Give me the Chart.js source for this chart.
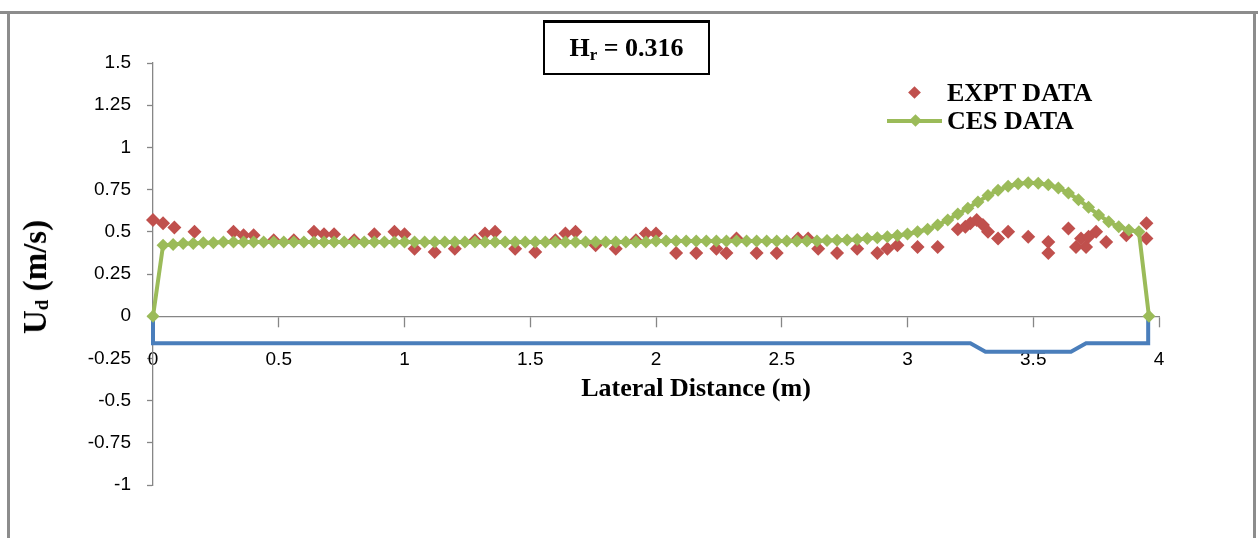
<!DOCTYPE html>
<html>
<head>
<meta charset="utf-8">
<script src="https://cdn.jsdelivr.net/npm/chart.js@4.4.0/dist/chart.umd.min.js"></script>
<style>
    body { margin: 0; background: #fff; }
    #wrap { position: relative; width: 1258px; height: 538px; overflow: hidden; background: #fff; }
    #chart { position: absolute; left: 0; top: 0; }
    .line { position: absolute; background: #8c8c8c; }
    .serif { position: absolute; font-family: 'Liberation Serif', 'Times New Roman', serif; font-weight: bold; color: #000; white-space: nowrap; }
    .diamond { position: absolute; width: 9px; height: 9px; transform: rotate(45deg); }
    #hr-box { left: 543px; top: 20px; width: 167px; height: 55px; border: 2px solid #000; border-top-width: 3px; box-sizing: border-box;
              font-size: 26px; line-height: 50px; text-align: center; }
    #hr-box sub { font-size: 17px; vertical-align: -4px; line-height: 0; }
    #y-title { left: 35px; top: 277px; font-size: 33px; line-height: 34px; transform: translate(-50%, -50%) rotate(-90deg); }
    #y-title sub { font-size: 19px; vertical-align: -2px; line-height: 0; }
    #x-title { left: 696px; top: 388px; font-size: 26px; line-height: 28px; transform: translate(-50%, -50%); }
    .leg-text { font-size: 26px; line-height: 28px; left: 947px; }
</style>
</head>
<body>
<div id="wrap">
    <canvas id="chart" width="1258" height="538"></canvas>

    <!-- moldura -->
    <div class="line" style="left:0; top:11px; width:1258px; height:3px;"></div>
    <div class="line" style="left:7px; top:11px; width:3px; height:527px;"></div>
    <div class="line" style="left:1253px; top:11px; width:3px; height:527px;"></div>

    <div id="hr-box" class="serif">H<sub>r</sub> = 0.316</div>

    <!-- legenda -->
    <div class="diamond" style="left:910px; top:88px; background:#C0504D;"></div>
    <div class="serif leg-text" style="top:79px;">EXPT DATA</div>
    <div style="position:absolute; left:887px; top:119px; width:55px; height:4px; background:#9BBB59;"></div>
    <div class="diamond" style="left:911px; top:116px; background:#9BBB59;"></div>
    <div class="serif leg-text" style="top:107px;">CES DATA</div>

    <div id="y-title" class="serif">U<sub>d</sub> (m/s)</div>
    <div id="x-title" class="serif">Lateral Distance (m)</div>
</div>

<script>
// Ticks dos eixos
const xTickValues = [0, 0.5, 1, 1.5, 2, 2.5, 3, 3.5, 4];
const yTickValues = [-1, -0.75, -0.5, -0.25, 0, 0.25, 0.5, 0.75, 1, 1.25, 1.5];

// EXPT DATA (pontos medidos)
const exptX = [0.00, 0.04, 0.085, 0.165, 0.32, 0.36, 0.40, 0.48, 0.56, 0.64, 0.68, 0.72, 0.80, 0.88, 0.96, 1.00,
    1.04, 1.12, 1.20, 1.28, 1.32, 1.36, 1.44, 1.52, 1.60, 1.64, 1.68, 1.76, 1.84, 1.92, 1.96, 2.00,
    2.08, 2.16, 2.24, 2.28, 2.32, 2.40, 2.48, 2.565, 2.605, 2.645, 2.72, 2.80, 2.88, 2.92, 2.96, 3.04,
    3.12, 3.20, 3.23, 3.25, 3.275, 3.30, 3.32, 3.36, 3.40, 3.48, 3.56, 3.56, 3.64, 3.67, 3.69, 3.71,
    3.72, 3.75, 3.79, 3.87, 3.95, 3.95];
const exptY = [0.57, 0.55, 0.525, 0.50, 0.50, 0.48, 0.48, 0.45, 0.45, 0.50, 0.485, 0.485, 0.45, 0.485, 0.50, 0.485,
    0.40, 0.38, 0.40, 0.45, 0.49, 0.50, 0.40, 0.38, 0.45, 0.49, 0.50, 0.42, 0.40, 0.45, 0.49, 0.49,
    0.375, 0.375, 0.40, 0.375, 0.46, 0.375, 0.375, 0.46, 0.46, 0.40, 0.375, 0.40, 0.375, 0.40, 0.42, 0.41,
    0.41, 0.515, 0.53, 0.55, 0.57, 0.54, 0.50, 0.46, 0.50, 0.47, 0.44, 0.375, 0.52, 0.41, 0.46, 0.41,
    0.47, 0.50, 0.44, 0.48, 0.55, 0.46];

// CES DATA (modelo)
const cesX = [0.00, 0.04, 0.08, 0.12, 0.16, 0.20, 0.24, 0.28, 0.32, 0.36, 0.40, 0.44, 0.48, 0.52, 0.56, 0.60,
    0.64, 0.68, 0.72, 0.76, 0.80, 0.84, 0.88, 0.92, 0.96, 1.00, 1.04, 1.08, 1.12, 1.16, 1.20, 1.24,
    1.28, 1.32, 1.36, 1.40, 1.44, 1.48, 1.52, 1.56, 1.60, 1.64, 1.68, 1.72, 1.76, 1.80, 1.84, 1.88,
    1.92, 1.96, 2.00, 2.04, 2.08, 2.12, 2.16, 2.20, 2.24, 2.28, 2.32, 2.36, 2.40, 2.44, 2.48, 2.52,
    2.56, 2.60, 2.64, 2.68, 2.72, 2.76, 2.80, 2.84, 2.88, 2.92, 2.96, 3.00, 3.04, 3.08, 3.12, 3.16,
    3.20, 3.24, 3.28, 3.32, 3.36, 3.40, 3.44, 3.48, 3.52, 3.56, 3.60, 3.64, 3.68, 3.72, 3.76, 3.80,
    3.84, 3.88, 3.92, 3.96];
const cesY = [0, 0.42, 0.425, 0.43, 0.43, 0.435, 0.435, 0.44, 0.44, 0.44, 0.44, 0.44, 0.44, 0.44, 0.44, 0.44,
    0.44, 0.44, 0.44, 0.44, 0.44, 0.44, 0.44, 0.44, 0.44, 0.44, 0.44, 0.44, 0.44, 0.44, 0.44, 0.44,
    0.44, 0.44, 0.44, 0.44, 0.44, 0.44, 0.44, 0.44, 0.44, 0.44, 0.44, 0.44, 0.44, 0.44, 0.44, 0.44,
    0.44, 0.44, 0.445, 0.445, 0.445, 0.445, 0.445, 0.445, 0.445, 0.445, 0.445, 0.445, 0.445, 0.445, 0.445, 0.445,
    0.445, 0.445, 0.445, 0.448, 0.45, 0.452, 0.455, 0.46, 0.465, 0.47, 0.478, 0.487, 0.50, 0.515, 0.54, 0.57,
    0.605, 0.64, 0.677, 0.715, 0.746, 0.77, 0.785, 0.79, 0.787, 0.778, 0.76, 0.73, 0.69, 0.645, 0.60, 0.56,
    0.53, 0.51, 0.50, 0];

// Perfil do leito (linha azul)
const bedX = [0, 0, 3.25, 3.31, 3.65, 3.71, 3.957, 3.957];
const bedY = [0, -0.16, -0.16, -0.21, -0.21, -0.16, -0.16, 0];

function toPoints(xs, ys) {
    return xs.map((x, i) => ({ x: x, y: ys[i] }));
}

Chart.defaults.font.family = "'Liberation Sans', Arial, sans-serif";
Chart.defaults.color = '#000';

const ctx = document.getElementById('chart').getContext('2d');

new Chart(ctx, {
    type: 'scatter',
    data: {
        datasets: [
            {
                label: 'CES DATA',
                data: toPoints(cesX, cesY),
                showLine: true,
                borderColor: '#9BBB59',
                backgroundColor: '#9BBB59',
                borderWidth: 4,
                pointStyle: 'rectRot',
                pointRadius: 6.5,
                pointBorderWidth: 0,
                clip: false,
                order: 1
            },
            {
                label: 'EXPT DATA',
                data: toPoints(exptX, exptY),
                borderColor: '#C0504D',
                backgroundColor: '#C0504D',
                pointStyle: 'rectRot',
                pointRadius: 7,
                pointBorderWidth: 0,
                clip: false,
                order: 2
            },
            {
                label: 'Bed',
                data: toPoints(bedX, bedY),
                showLine: true,
                borderColor: '#4A7EBB',
                borderWidth: 4,
                pointRadius: 0,
                clip: false,
                order: 3
            }
        ]
    },
    options: {
        responsive: false,
        animation: false,
        devicePixelRatio: 1,
        layout: { padding: { left: 0, right: 99, top: 63, bottom: 53 } },
        plugins: {
            legend: { display: false },
            tooltip: { enabled: false }
        },
        scales: {
            x: {
                type: 'linear',
                min: 0,
                max: 4,
                position: { y: 0 },
                afterBuildTicks: scale => { scale.ticks = xTickValues.map(v => ({ value: v })); },
                ticks: {
                    callback: v => String(v),
                    padding: 22,
                    maxRotation: 0,
                    autoSkip: false,
                    font: { size: 19 }
                },
                grid: { drawOnChartArea: false, tickLength: 10, color: '#868686', tickWidth: 1.3 },
                border: { color: '#868686', width: 1.3 }
            },
            y: {
                type: 'linear',
                min: -1,
                max: 1.5,
                afterBuildTicks: scale => { scale.ticks = yTickValues.map(v => ({ value: v })); },
                afterFit: scale => { scale.width = 153; },
                ticks: {
                    callback: v => String(v),
                    padding: 16,
                    autoSkip: false,
                    font: { size: 19 }
                },
                grid: { drawOnChartArea: false, tickLength: 6, color: '#868686', tickWidth: 1.3 },
                border: { color: '#868686', width: 1.3 }
            }
        }
    }
});
</script>
</body>
</html>
